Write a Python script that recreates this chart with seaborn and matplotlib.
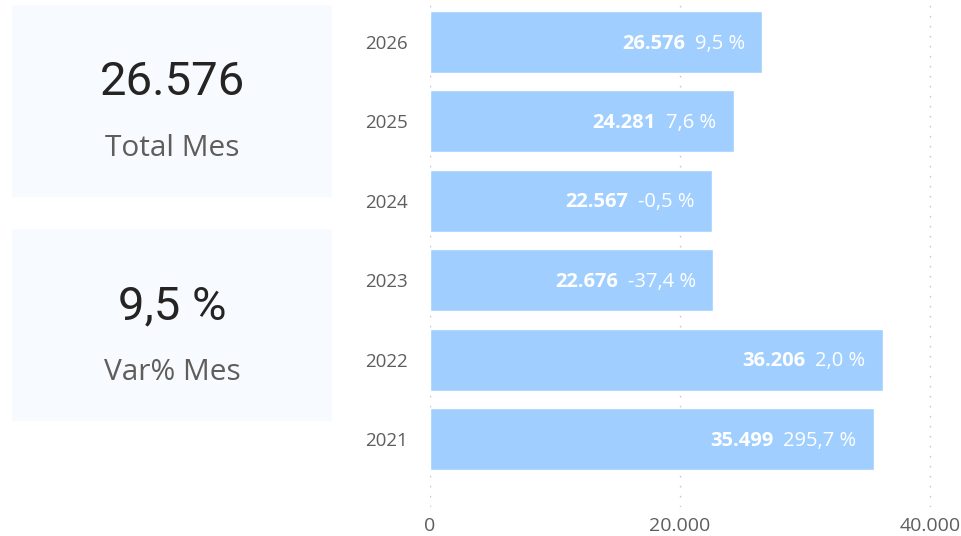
import pandas as pd
import matplotlib.pyplot as plt
import seaborn as sns
from matplotlib.patches import Rectangle

# Datos
years = ['2026', '2025', '2024', '2023', '2022', '2021']
totals = [26576, 24281, 22567, 22676, 36206, 35499]
var_pct = [9.5, 7.6, -0.5, -37.4, 2.0, 295.7]

card_values = ['26.576', '9,5 %']
card_labels = ['Total Mes', 'Var% Mes']


def fmt_miles(v):
    return f"{v:,.0f}".replace(',', '.')


def fmt_pct(v):
    return f"{v:.1f}".replace('.', ',') + ' %'


df = pd.DataFrame({'year': years, 'total': totals, 'var': var_pct})

sns.set_theme(style='white')
plt.rcParams['font.family'] = ['Open Sans', 'DejaVu Sans']

W, H = 962, 536
fig = plt.figure(figsize=(W / 100, H / 100), dpi=100)
fig.patch.set_facecolor('white')

# Tarjetas de la izquierda
cards = [(12, 5, 320, 192), (12, 229, 320, 192)]
for (x, y, w, h), val, lab in zip(cards, card_values, card_labels):
    fig.add_artist(Rectangle((x / W, 1 - (y + h) / H), w / W, h / H,
                             transform=fig.transFigure, facecolor='#F7FAFE',
                             edgecolor='none', zorder=0))
    cx = (x + w / 2) / W
    fig.text(cx, 1 - (y + 77) / H, val, ha='center', va='center',
             fontsize=34, color='#252423', family=['Roboto', 'DejaVu Sans'])
    fig.text(cx, 1 - (y + 144) / H, lab, ha='center', va='center',
             fontsize=21.5, color='#605E5C')

# Gráfico de barras
ax = fig.add_axes([430 / W, (H - 507) / H, (W - 430) / W, 507 / H])
sns.barplot(data=df, x='total', y='year', order=years, color='#A0CFFF',
            width=0.78, saturation=1, ax=ax, zorder=2)
ax.set_xlim(0, 42560)
ax.set_ylim(5.856, -0.529)
ax.set_xticks([0, 20000, 40000])
ax.set_xticklabels([fmt_miles(t) for t in [0, 20000, 40000]])
for t in [0, 20000, 40000]:
    ax.axvline(t, color='#C8C8C8', lw=1.0, linestyle=(0, (1.2, 6)), zorder=0)
ax.tick_params(axis='y', length=0, pad=16, labelsize=13.5, labelcolor='#605E5C')
ax.tick_params(axis='x', length=0, pad=7.5, labelsize=14, labelcolor='#605E5C')
ax.set_xlabel('')
ax.set_ylabel('')
for s in ax.spines.values():
    s.set_visible(False)
ax.set_facecolor('none')

# Etiquetas dentro de las barras
fig.canvas.draw()
renderer = fig.canvas.get_renderer()
for i, (tot, v) in enumerate(zip(totals, var_pct)):
    t_pct = ax.annotate(fmt_pct(v), (tot, i), xytext=(-12.6, -1.2),
                        textcoords='offset points', ha='right', va='center',
                        fontsize=14.5, color='white', zorder=3)
    bb = t_pct.get_window_extent(renderer)
    w_pt = bb.width * 72 / fig.dpi
    ax.annotate(fmt_miles(tot), (tot, i), xytext=(-12.6 - w_pt - 7, -1.2),
                textcoords='offset points', ha='right', va='center',
                fontsize=14.5, fontweight='bold', color='white', zorder=3)

fig.savefig('out.png', dpi=100)
